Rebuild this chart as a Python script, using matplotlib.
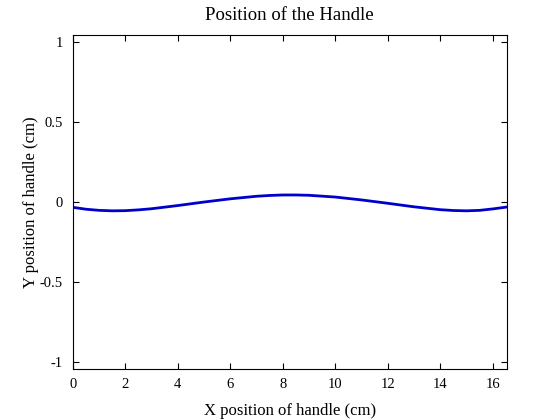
import matplotlib
matplotlib.use("Agg")
import matplotlib.pyplot as plt

x_pos = [0, 0.5, 1, 1.5, 2, 2.5, 3, 4, 5, 6, 7, 7.5, 8, 8.5, 9, 10, 11, 12, 13, 14, 14.5, 15, 15.5, 16, 16.5]
y_pos = [-0.033, -0.045, -0.052, -0.055, -0.054, -0.049, -0.042, -0.022, 0.000, 0.020, 0.036, 0.041, 0.044, 0.044, 0.042, 0.031, 0.013, -0.008, -0.030, -0.048, -0.053, -0.055, -0.052, -0.043, -0.032]

xticks = [0, 2, 4, 6, 8, 10, 12, 14, 16]
yticks = [-1, -0.5, 0, 0.5, 1]
ytick_labels = ["-1", "-0.5", "0", "0.5", "1"]

plt.rcParams['font.family'] = ['Liberation Serif', 'DejaVu Serif']

fig = plt.figure(figsize=(5.6, 4.2), dpi=100)
ax = fig.add_axes([0.130, 0.121, 0.775, 0.796])
ax.plot(x_pos, y_pos, color='#0000CC', linewidth=2.0)
ax.set_xlim(0, 16.53)
ax.set_ylim(-1.044, 1.044)
ax.set_xticks(xticks)
ax.set_yticks(yticks)
ax.set_yticklabels(ytick_labels)
ax.tick_params(direction='in', top=True, right=True, labelsize=10.5, length=4, width=0.8)
ax.tick_params(axis='x', pad=6)
ax.tick_params(axis='y', pad=7)
for s in ax.spines.values():
    s.set_linewidth(0.8)
ax.set_title("Position of the Handle", fontsize=13.5, pad=11)
ax.set_xlabel("X position of handle (cm)", fontsize=12, labelpad=9)
ax.set_ylabel("Y position of handle (cm)", fontsize=12, labelpad=1)
fig.savefig("out.png", dpi=100)
